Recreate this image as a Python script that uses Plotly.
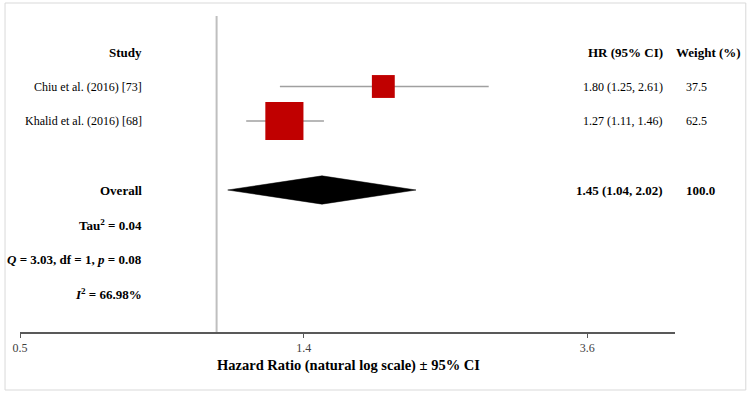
import math
import plotly.graph_objects as go

# ---------------- data ----------------
studies = ["Chiu et al. (2016) [73]", "Khalid et al. (2016) [68]"]
hr = [1.80, 1.27]
ci_low = [1.25, 1.11]
ci_high = [2.61, 1.46]
weights = [37.5, 62.5]
hr_text = ["1.80 (1.25, 2.61)", "1.27 (1.11, 1.46)"]
weight_text = ["37.5", "62.5"]

overall_label = "Overall"
overall_hr = 1.45
overall_low = 1.04
overall_high = 2.02
overall_text = "1.45 (1.04, 2.02)"
overall_weight = "100.0"

stats_text = [
    "Tau<sup>2</sup> = 0.04",
    "<i>Q</i> = 3.03, df = 1, <i>p</i> = 0.08",
    "<i>I</i><sup>2</sup> = 66.98%",
]

tick_base = 0.5
tick_labels = ["0.5", "1.4", "3.6"]
x_axis_title = "Hazard Ratio (natural log scale) ± 95% CI"

# ---------------- layout constants ----------------
W, H = 750, 394
ML, MR, MT, MB = 18, 75, 16, 62
PW, PH = W - ML - MR, H - MT - MB
ROW0_PX, ROW_PX = 52, 34.5          # pixel y of header row, row spacing
PX_PER_LN = 284.5                   # pixels per natural-log unit

# ticks are one natural-log unit apart, starting at the base value
tick_vals = [tick_base * math.e ** k for k in range(len(tick_labels))]

y_top = (MT - ROW0_PX) / ROW_PX
y_bot = (H - MB - ROW0_PX) / ROW_PX
x_lo = math.log10(tick_base)
x_hi = x_lo + (PW / PX_PER_LN) / math.log(10)

def px_x(px):
    return (px - ML) / PW

def px_y(py):
    return (H - MB - py) / PH

FONT = "Liberation Serif, Times New Roman, serif"
RED = "#C00000"
GREY_LINE = "#A0A0A0"

study_rows = [1, 2]
overall_row = 4
stats_rows = [5, 6, 7]

fig = go.Figure()

# reference line at HR = 1
fig.add_trace(go.Scatter(x=[1, 1], y=[y_top, y_bot], mode="lines",
                         line=dict(color="#BFBFBF", width=2),
                         hoverinfo="skip", showlegend=False, cliponaxis=False))

# CI lines
for r, lo, hi in zip(study_rows, ci_low, ci_high):
    fig.add_trace(go.Scatter(x=[lo, hi], y=[r, r], mode="lines",
                             line=dict(color=GREY_LINE, width=1.6),
                             hoverinfo="skip", showlegend=False))

# boxes sized by weight
fig.add_trace(go.Scatter(x=hr, y=study_rows, mode="markers", opacity=1,
                         marker=dict(symbol="square", color=RED, opacity=1,
                                     size=[w * 0.61 for w in weights],
                                     line=dict(width=0)),
                         hoverinfo="skip", showlegend=False))

# overall diamond
dh = 0.41
fig.add_trace(go.Scatter(
    x=[overall_low, overall_hr, overall_high, overall_hr, overall_low],
    y=[overall_row, overall_row - dh, overall_row, overall_row + dh, overall_row],
    mode="lines", fill="toself", fillcolor="black",
    line=dict(color="black", width=0.5),
    hoverinfo="skip", showlegend=False))

ann = []
def add_text(text, x, y, anchor, size=12, bold=False, yref="y", color="#000000"):
    if bold:
        text = "<b>" + text + "</b>"
    ann.append(dict(text=text, x=x, y=y, xref="paper", yref=yref,
                    xanchor=anchor, yanchor="middle", showarrow=False,
                    font=dict(family=FONT, size=size, color=color)))

STUDY_X = px_x(142)
HR_X = px_x(665)
WT_HDR_X = px_x(743)
WT_X = px_x(684)

add_text("Study", STUDY_X, 0, "right", 13, True)
add_text("HR (95% CI)", HR_X, 0, "right", 13, True)
add_text("Weight (%)", WT_HDR_X, 0, "right", 13, True)
for r, s, t, w in zip(study_rows, studies, hr_text, weight_text):
    add_text(s, STUDY_X, r, "right", 12)
    add_text(t, HR_X, r, "right", 12)
    add_text(w, WT_X, r, "left", 12)
add_text(overall_label, STUDY_X, overall_row, "right", 13, True)
add_text(overall_text, HR_X, overall_row, "right", 13, True)
add_text(overall_weight, WT_X, overall_row, "left", 13, True)
for r, s in zip(stats_rows, stats_text):
    add_text(s, STUDY_X, r, "right", 13, True)

add_text(x_axis_title, px_x(348), px_y(365), "center", 14.5, True, yref="paper")

shapes = [dict(type="rect", xref="paper", yref="paper",
               x0=px_x(3), x1=px_x(746), y0=px_y(390), y1=px_y(3),
               line=dict(color="#D9D9D9", width=1), layer="below")]

fig.update_layout(
    width=W, height=H,
    margin=dict(l=ML, r=MR, t=MT, b=MB, pad=0),
    paper_bgcolor="white", plot_bgcolor="white",
    showlegend=False,
    annotations=ann, shapes=shapes,
    xaxis=dict(type="log", range=[x_lo, x_hi], tickvals=tick_vals,
               ticktext=tick_labels, showgrid=False, zeroline=False,
               showline=True, linecolor="#595959", linewidth=2,
               ticks="outside", ticklen=4, tickwidth=1, tickcolor="#595959",
               tickfont=dict(family=FONT, size=12, color="#404040"),
               fixedrange=True),
    yaxis=dict(range=[y_bot, y_top], visible=False, fixedrange=True),
)

fig.write_html("out.html", config={"displayModeBar": False})
with open("out.html", "r", encoding="utf-8") as f:
    html = f.read()
html = html.replace("<head>", "<head><style>body{margin:0;}</style>", 1)
with open("out.html", "w", encoding="utf-8") as f:
    f.write(html)
